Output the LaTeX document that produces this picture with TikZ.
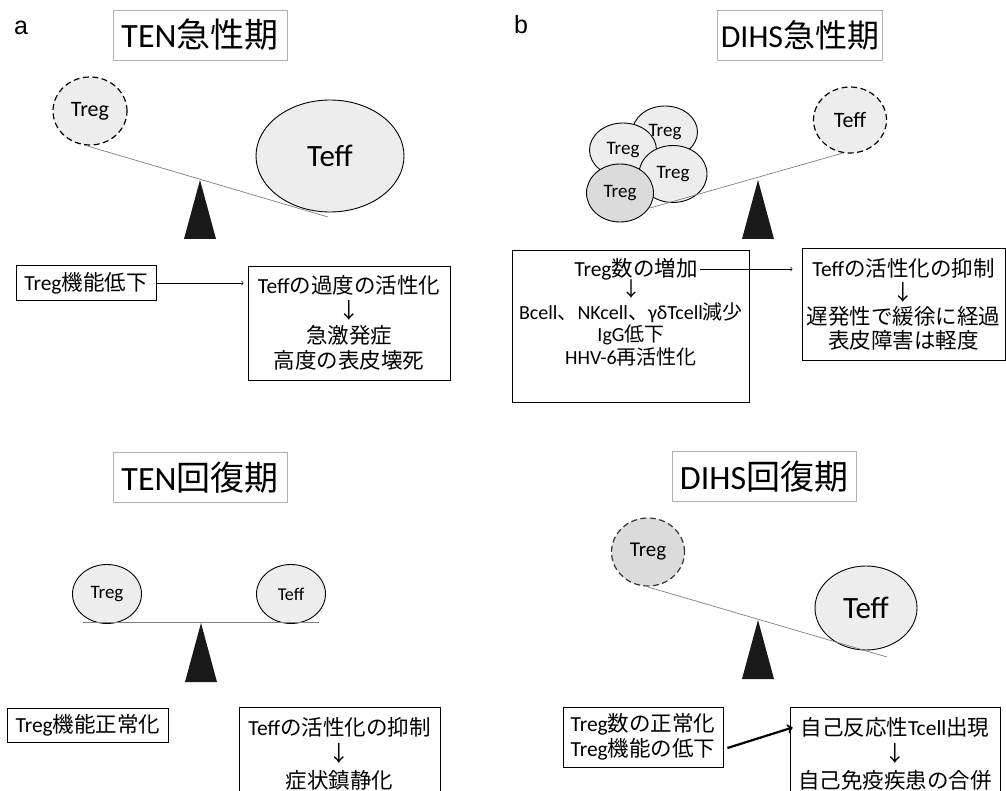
\documentclass[tikz,border=0pt]{standalone}
\usepackage{fontspec}
\setmainfont{Carlito}
\newfontfamily\jp{Noto Sans CJK JP}
\newfontfamily\panelfont{Liberation Sans}
\usetikzlibrary{shapes.geometric}
\tikzset{
  title/.style={draw=gray!60, line width=0.8pt, inner sep=0pt, minimum height=50pt, font=\fontsize{34}{38}\selectfont},
  cell/.style={draw, ellipse, fill=gray!14, line width=0.9pt, inner sep=0pt, font=\fontsize{19}{21}\selectfont},
  gonecell/.style={cell, dashed, dash pattern=on 6pt off 3.5pt, line width=1.2pt, font=\fontsize{22}{24}\selectfont},
  txt/.style={align=center, inner sep=0pt, font=\fontsize{21.5}{25}\selectfont},
  txtbox/.style={txt, draw, line width=0.8pt},
  beam/.style={draw=gray, line width=0.7pt},
  panel/.style={font=\panelfont\fontsize{25}{28}\selectfont},
}
\begin{document}
\begin{tikzpicture}[x=1pt, y=-1pt]
        \clip (0,0) rectangle (1006,791);
        \fill[white] (0,0) rectangle (1006,791);

        % a: TEN acute
        \node[panel] (labA) at (21,28) {a};
        \node[title, minimum width=174pt] (tenA) at (200,35) {TEN{\jp 急性期}};
        \node[gonecell, minimum width=74pt, minimum height=68pt] (tregA) at (90,111) {Treg};
        \node[cell, minimum width=148pt, minimum height=112pt, font=\fontsize{31}{33}\selectfont] (teffA) at (330,156) {Teff};
        \coordinate (beamA1) at (84,145);  \coordinate (beamA2) at (328,217);
        \draw[beam] (beamA1) to (beamA2);
        \node[txtbox, minimum width=140pt, minimum height=35pt] (lowA) at (86,283) {Treg{\jp 機能低下}};
        \node[txtbox, minimum width=202pt, minimum height=114pt] (effA) at (349,323) {Teff{\jp の過度の活性化}\\{\jp ↓}\\{\jp 急激発症}\\{\jp 高度の表皮壊死}};
        \draw[->, line width=0.6pt, shorten >=4pt] (lowA.east) to (lowA.east -| effA.west);

        % b: DIHS acute
        \node[panel] (labB) at (521,25) {b};
        \node[title, minimum width=165pt, font=\fontsize{32}{36}\selectfont] (dihsB) at (800,35) {DIHS{\jp 急性期}};
            \node[cell, minimum width=65pt, minimum height=52pt] (tregB1) at (665,132) {Treg};
            \node[cell, minimum width=67pt, minimum height=54pt] (tregB2) at (623,150) {Treg};
            \node[cell, minimum width=68pt, minimum height=57pt] (tregB3) at (673,174) {Treg};
            \node[cell, fill=gray!28, minimum width=67pt, minimum height=58pt] (tregB4) at (620,193) {Treg};
        \node[gonecell, minimum width=73pt, minimum height=66pt] (teffB) at (850,120) {Teff};
        \coordinate (beamB1) at (650,208);  \coordinate (beamB2) at (843,153);
        \draw[beam] (beamB1) to (beamB2);
        \node[txtbox, minimum width=237pt, minimum height=152pt] (boxB) at (631,326) {};
            \node[txt] (incB) at (636,269) {Treg{\jp 数の増加}};
            \node[txt, font=\fontsize{20}{22.5}\selectfont] (resB) at (631,323) {{\jp ↓}\\Bcell{\jp 、}NKcell{\jp 、}γδTcell{\jp 減少}\\IgG{\jp 低下}\\HHV-6{\jp 再活性化}};
        \node[txtbox, minimum width=203pt, minimum height=112pt, font=\fontsize{21.5}{24}\selectfont] (supB) at (903.5,304) {Teff{\jp の活性化の抑制}\\{\jp ↓}\\{\jp 遅発性で緩徐に経過}\\{\jp 表皮障害は軽度}};
        \draw[->, line width=0.6pt, shorten <=2pt, shorten >=9pt] (incB.east) to (incB.east -| supB.west);

        % c: TEN recovery
        \node[title, minimum width=174pt] (tenC) at (200,477.5) {TEN{\jp 回復期}};
        \node[cell, minimum width=69pt, minimum height=59pt] (tregC) at (107,594) {Treg};
        \node[cell, minimum width=69pt, minimum height=59pt, font=\fontsize{18}{21}\selectfont] (teffC) at (291,594) {Teff};
        \coordinate (beamC1) at (83,622);  \coordinate (beamC2) at (319,622);
        \draw[beam] (beamC1) to (beamC2);
        \node[txtbox, minimum width=161pt, minimum height=34pt] (normC) at (88,725) {Treg{\jp 機能正常化}};
        \node[txtbox, minimum width=201pt, minimum height=93pt, font=\fontsize{21.5}{26.5}\selectfont] (supC) at (339.5,753.5) {Teff{\jp の活性化の抑制}\\{\jp ↓}\\{\jp 症状鎮静化}};

        % d: DIHS recovery
        \node[title, minimum width=184pt] (dihsD) at (764,476.5) {DIHS{\jp 回復期}};
        \node[gonecell, fill=gray!28, draw=black!80, minimum width=73pt, minimum height=68pt, font=\fontsize{21}{23}\selectfont] (tregD) at (648,552) {Treg};
        \node[cell, minimum width=102pt, minimum height=84pt, font=\fontsize{31}{33}\selectfont] (teffD) at (866,608) {Teff};
        \coordinate (beamD1) at (648,587);  \coordinate (beamD2) at (887,657);
        \draw[beam] (beamD1) to (beamD2);
        \node[txtbox, minimum width=160pt, minimum height=60pt] (normD) at (643,737) {Treg{\jp 数の正常化}\\Treg{\jp 機能の低下}};
        \node[txtbox, minimum width=210pt, minimum height=93pt, font=\fontsize{21.5}{26.5}\selectfont] (autoD) at (895,753.5) {{\jp 自己反応性}Tcell{\jp 出現}\\{\jp ↓}\\{\jp 自己免疫疾患の合併}};
        \draw[->, line width=2.2pt] ([shift={(4pt,-11pt)}]normD.east) to ([shift={(3pt,26pt)}]autoD.west);

        % fulcrums
        \foreach \x/\y in {200/180, 758/180, 201/623, 758/620}
            \fill[black!90] (\x,\y) -- ++(-16,59) -- ++(32,0) -- cycle;

    \end{tikzpicture}
\end{document}
